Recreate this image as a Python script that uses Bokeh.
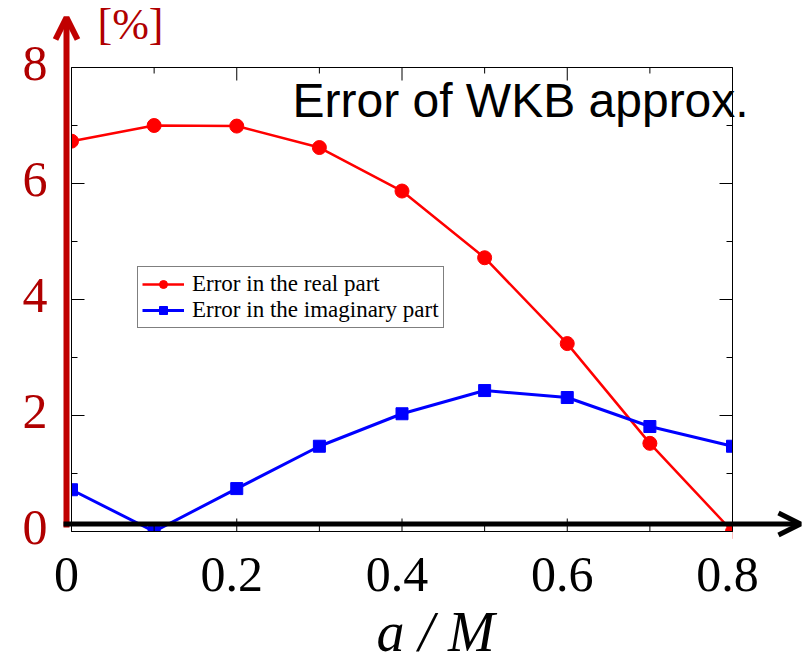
from bokeh.plotting import figure
from bokeh.models import Arrow, OpenHead, Label, Legend, LegendItem, Range1d
from bokeh.core.properties import value
from bokeh.embed import file_html
from bokeh.resources import INLINE

# ---- data ----
a_over_m = [0, 0.1, 0.2, 0.3, 0.4, 0.5, 0.6, 0.7, 0.8]
err_real = [6.73, 7.0, 6.99, 6.62, 5.87, 4.72, 3.24, 1.52, 0.0]
err_imag = [0.72, 0.0, 0.74, 1.47, 2.03, 2.43, 2.31, 1.81, 1.47]

x_ticks = [0, 0.2, 0.4, 0.6, 0.8]
x_tick_labels = ["0", "0.2", "0.4", "0.6", "0.8"]
x_minor = [0.1, 0.3, 0.5, 0.7]
y_ticks = [0, 2, 4, 6, 8]
y_tick_labels = ["0", "2", "4", "6", "8"]
y_minor = [1, 3, 5, 7]

XMIN, XMAX, YMIN, YMAX = 0, 0.8, 0, 8

DARKRED = "#c00000"
LABELRED = "#b00000"
W, H = 804, 667

# inner plot box in canvas pixels: left 71, right 732, top 67, bottom 531
BX0, BX1, BY0, BY1 = 71, 732, 531, 67
XS = (BX1 - BX0) / (XMAX - XMIN)
YS = (BY0 - BY1) / (YMAX - YMIN)

def dx(px):
    return XMIN + (px - BX0) / XS

def dy(py):
    return YMIN + (BY0 - py) / YS

p = figure(width=W, height=H,
           x_range=Range1d(dx(0), dx(W)), y_range=Range1d(dy(H), dy(0)),
           x_axis_type=None, y_axis_type=None, output_backend="svg",
           toolbar_location=None, min_border=0,
           min_border_left=0, min_border_right=0, min_border_top=0, min_border_bottom=0,
           background_fill_color="white", border_fill_color="white",
           outline_line_color=None)

# data series
r1 = p.line(a_over_m, err_real, line_color="red", line_width=2.5)
s1 = p.scatter(a_over_m, err_real, marker="circle", size=14, color="red")
r2 = p.line(a_over_m, err_imag, line_color="blue", line_width=3)
s2 = p.scatter(a_over_m, err_imag, marker="square", size=12, color="blue")

# clip everything to the inner box (white masks outside it)
p.quad(left=[dx(0), XMAX, XMIN, XMIN], right=[XMIN, dx(W), XMAX, XMAX],
       bottom=[dy(H), dy(H), dy(H), YMAX], top=[dy(0), dy(0), YMIN, dy(0)],
       fill_color="white", line_color=None)

# inner box
p.quad(left=[XMIN], right=[XMAX], bottom=[YMIN], top=[YMAX],
       fill_color=None, line_color="black", line_width=1)

# inward ticks on all four sides
MAJ, MIN_ = 13, 6
def vticks(xs, length):
    L = length / YS
    p.segment(x0=xs, y0=[YMIN] * len(xs), x1=xs, y1=[YMIN + L] * len(xs),
              line_color="black", line_width=1)
    p.segment(x0=xs, y0=[YMAX] * len(xs), x1=xs, y1=[YMAX - L] * len(xs),
              line_color="black", line_width=1)

def hticks(ys, length):
    L = length / XS
    p.segment(x0=[XMIN] * len(ys), y0=ys, x1=[XMIN + L] * len(ys), y1=ys,
              line_color="black", line_width=1)
    p.segment(x0=[XMAX] * len(ys), y0=ys, x1=[XMAX - L] * len(ys), y1=ys,
              line_color="black", line_width=1)

vticks(x_ticks, MAJ)
vticks(x_minor, MIN_)
hticks(y_ticks, MAJ)
hticks(y_minor, MIN_)

# tick labels
p.text(x=x_ticks, y=[dy(574)] * len(x_ticks), text=x_tick_labels,
       text_align="center", text_baseline="middle", x_offset=-5,
       text_font=value("Liberation Serif"), text_font_size=value("50px"),
       text_color="black")
p.text(x=[dx(47)] * len(y_ticks), y=y_ticks, text=y_tick_labels,
       text_align="right", text_baseline="middle", y_offset=-4,
       text_font=value("Liberation Serif"), text_font_size=value("50px"),
       text_color=LABELRED)

# axis arrows
p.add_layout(Arrow(end=OpenHead(size=22, line_width=6, line_color=DARKRED),
                   x_start=dx(66), y_start=dy(527), x_end=dx(66), y_end=dy(17),
                   line_width=6, line_color=DARKRED))
p.add_layout(Arrow(end=OpenHead(size=22, line_width=5, line_color="black"),
                   x_start=dx(63), y_start=dy(523.5), x_end=dx(800), y_end=dy(523.5),
                   line_width=5, line_color="black"))

# texts
p.add_layout(Label(x=dx(97), y=dy(24), text="[%]", text_font="Liberation Serif",
                   text_font_size="44px", text_color=LABELRED,
                   text_align="left", text_baseline="middle"))
p.add_layout(Label(x=dx(292), y=dy(100), text="Error of WKB approx.",
                   text_font="Liberation Sans", text_font_size="48px",
                   text_color="black", text_align="left", text_baseline="middle"))
p.add_layout(Label(x=dx(435), y=dy(631), text="a / M", text_font="Liberation Serif",
                   text_font_style="italic", text_font_size="56px",
                   text_color="black", text_align="center", text_baseline="middle"))

legend = Legend(items=[LegendItem(label="Error in the real part", renderers=[r1, s1]),
                       LegendItem(label="Error in the imaginary part", renderers=[r2, s2])],
                location=(137, H - 328), margin=0, padding=4, spacing=0,
                glyph_width=42, glyph_height=20, label_standoff=8,
                label_text_font="Liberation Serif", label_text_font_size="23px",
                label_text_color="black",
                border_line_color="black", border_line_width=1,
                background_fill_color="white", background_fill_alpha=1)
p.add_layout(legend, "center")

open("out.html", "w").write(file_html(p, INLINE))
